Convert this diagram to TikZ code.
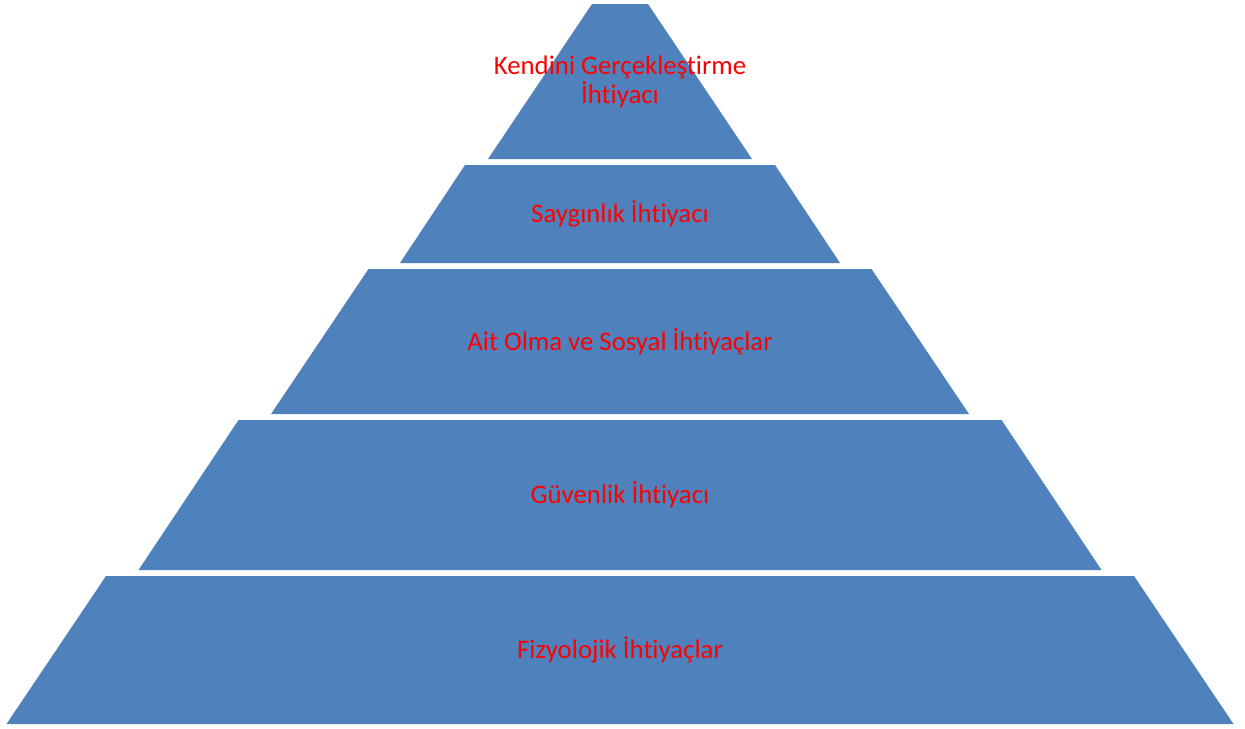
\documentclass[tikz,border=0pt]{standalone}
\usepackage{fontspec}
\setmainfont{Carlito}[Ligatures=NoCommon]
\definecolor{tierblue}{HTML}{4F81BD}
\tikzset{
    tier/.style={fill=tierblue},
    tiertext/.style={text=red,font=\fontsize{13.4}{14.5}\selectfont,align=center}
}

\begin{document}
\begin{tikzpicture}[x=0.5pt,y=-0.5pt]
    \useasboundingbox (0,0) rectangle (1245,728);

    % pyramid, top to bottom: name / top y / bottom y / top half width / bottom half width
    \foreach \tiername/\ytop/\ybot/\htop/\hbot in {self/4/159/28/132,
                                                   esteem/165/263/155/220,
                                                   social/269/414/251.5/349,
                                                   safety/420/570/381.5/481.5,
                                                   physio/576/724/514/613.5}
    {
        \fill[tier] (620-\htop,\ytop) -- (620+\htop,\ytop) -- (620+\hbot,\ybot) -- (620-\hbot,\ybot) -- cycle;
        \coordinate (\tiername) at (620,{(\ytop+\ybot)/2});
    }

    \node[tiertext] (self text)   at (self)   {Kendini Gerçekleştirme\\İhtiyacı};
    \node[tiertext] (esteem text) at (esteem) {Saygınlık İhtiyacı};
    \node[tiertext] (social text) at (social) {Ait Olma ve Sosyal İhtiyaçlar};
    \node[tiertext] (safety text) at (safety) {Güvenlik İhtiyacı};
    \node[tiertext] (physio text) at (physio) {Fizyolojik İhtiyaçlar};

\end{tikzpicture}
\end{document}
